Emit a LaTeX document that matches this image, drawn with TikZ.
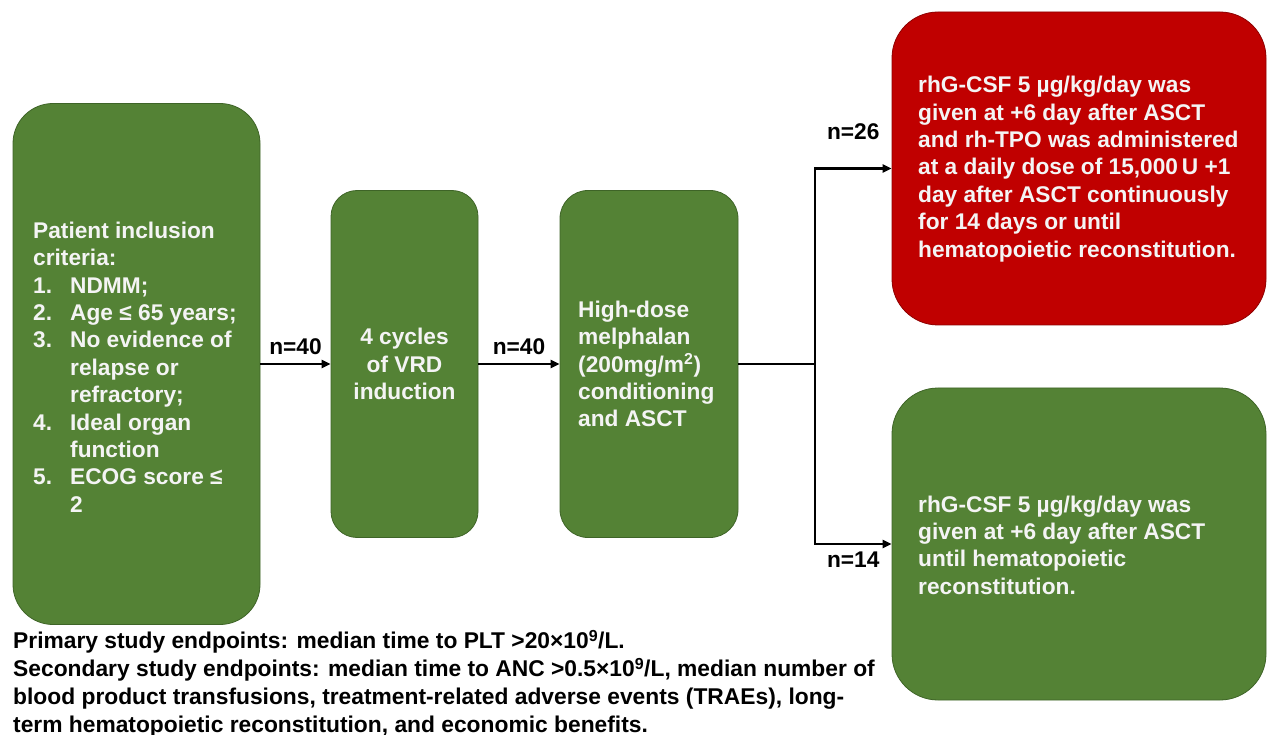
\documentclass[tikz,border=0pt]{standalone}
\usepackage{fontspec}
\setmainfont{Liberation Sans}
\usetikzlibrary{arrows.meta}

\definecolor{boxgreen}{HTML}{548235}
\definecolor{boxgreenline}{HTML}{3E6427}
\definecolor{boxred}{HTML}{C00000}
\definecolor{boxredline}{HTML}{8E0000}
\definecolor{boxtext}{HTML}{F4F4F4}

\begin{document}
\begin{tikzpicture}[
    x=1pt, y=-1pt,
    font=\bfseries\fontsize{22.7}{27.4}\selectfont,
    box/.style={
        rectangle, draw=boxgreenline, fill=boxgreen, line width=0.8pt,
        inner sep=0pt
    },
    redbox/.style={box, draw=boxredline, fill=boxred},
    boxtxt/.style={text=boxtext, align=left, inner sep=0pt, anchor=west},
    lbl/.style={text=black, inner sep=2pt},
    conn/.style={-{Triangle[length=9pt, width=8pt]}, line width=2.4pt},
    stem/.style={line width=2.4pt},
]

    \useasboundingbox (0,0) rectangle (1267,735);

    % Column x-coordinates (box centres).
    \def\xIncl{136.5}
    \def\xVrd{404.5}
    \def\xMel{649}
    \def\xArm{1079}

    % Row y-coordinates.
    \def\yMid{364}
    \def\yTop{168.5}
    \def\yBot{544}

    % ---------- main chain ----------
    \node[box, rounded corners=40pt, minimum width=247pt, minimum height=521pt]
        (incl) at (\xIncl, \yMid) {};
    \node[box, rounded corners=26pt, minimum width=147pt, minimum height=347pt]
        (vrd) at (\xVrd, \yMid) {};
    \node[box, rounded corners=28pt, minimum width=178pt, minimum height=347pt]
        (mel) at (\xMel, \yMid) {};

    \node[boxtxt] (incl-text) at (33, 367) {Patient inclusion\\criteria:\\
        \makebox[37pt][l]{1.}NDMM;\\
        \makebox[37pt][l]{2.}Age ≤ 65 years;\\
        \makebox[37pt][l]{3.}No evidence of\\
        \hspace*{37pt}relapse or\\
        \hspace*{37pt}refractory;\\
        \makebox[37pt][l]{4.}Ideal organ\\
        \hspace*{37pt}function\\
        \makebox[37pt][l]{5.}ECOG score ≤\\
        \hspace*{37pt}2};
    \node[boxtxt, align=center, anchor=center] (vrd-text) at (\xVrd, \yMid)
        {4 cycles\\of VRD\\induction};
    \node[boxtxt] (mel-text) at (578, \yMid)
        {High-dose\\melphalan\\(200mg/m\textsuperscript{2})\\conditioning\\and ASCT};

    \draw[conn] (incl) -- node[lbl, above=6pt] {n=40} (vrd);
    \draw[conn] (vrd) -- node[lbl, above=6pt] {n=40} (mel);

    % ---------- treatment arms ----------
    \node[redbox, rounded corners=46pt, minimum width=374pt, minimum height=313pt]
        (tpo) at (\xArm, \yTop) {};
    \node[box, rounded corners=46pt, minimum width=374pt, minimum height=312pt]
        (gcsf) at (\xArm, \yBot) {};

    \node[boxtxt] (tpo-text) at (918, 169)
        {rhG-CSF 5 µg/kg/day was\\given at +6 day after ASCT\\and rh-TPO was administered\\
         at a daily dose of 15,000\,U +1\\day after ASCT continuously\\
         for 14 days or until\\hematopoietic reconstitution.};
    \node[boxtxt] (gcsf-text) at (918, 545)
        {rhG-CSF 5 µg/kg/day was\\given at +6 day after ASCT\\until hematopoietic\\reconstitution.};

    \coordinate (split) at (815, \yMid);
    \draw[stem] (mel) -- (split);
    \draw[conn] (split) |- node[lbl, pos=0.75, above=26pt] {n=26} (tpo);
    \draw[conn] (split) |- node[lbl, pos=0.75, below=5pt] {n=14} (gcsf);

    % ---------- endpoints ----------
    \node[align=left, anchor=north west, inner sep=0pt,
          font=\bfseries\fontsize{22.8}{27.8}\selectfont] (endpoints) at (13, 630)
        {Primary study endpoints: median time to PLT >20×10\textsuperscript{9}/L.\\
         Secondary study endpoints: median time to ANC >0.5×10\textsuperscript{9}/L, median number of\\
         blood product transfusions, treatment-related adverse events (TRAEs), long-\\
         term hematopoietic reconstitution, and economic benefits.};

\end{tikzpicture}
\end{document}
